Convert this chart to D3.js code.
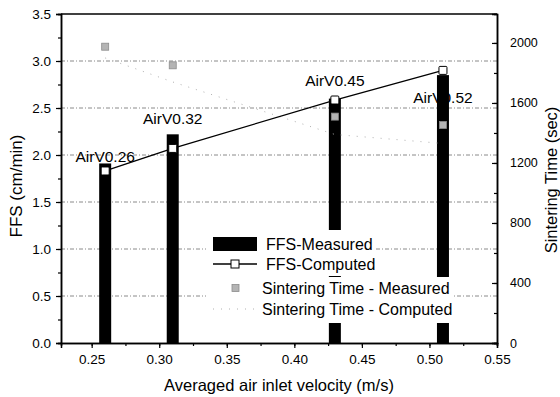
<!DOCTYPE html>
<html>
<head>
<meta charset="utf-8">
<script src="https://cdn.jsdelivr.net/npm/d3@7"></script>
<style>
  body { margin: 0; background: #fff; }
  svg { font-family: Arial, "Liberation Sans", sans-serif; }
</style>
</head>
<body>
<div id="chart"></div>
<script>
// Data
const velocity        = [0.26, 0.31, 0.43, 0.51];
const ffsMeasured     = [1.91, 2.22, 2.60, 2.85];
const ffsComputed     = [1.83, 2.07, 2.585, 2.90];
const sinterMeasured  = [1975, 1851, 1509, 1453];
const sinterComputed  = [1900, 1740, 1390, 1330];
const caseLabels      = ["AirV0.26", "AirV0.32", "AirV0.45", "AirV0.52"];
const labelAnchor     = [1.925, 2.33, 2.73, 2.55];   // FFS units, baseline of each label
const xTicks          = [0.25, 0.30, 0.35, 0.40, 0.45, 0.50, 0.55];
const yTicks          = [0.0, 0.5, 1.0, 1.5, 2.0, 2.5, 3.0, 3.5];
const y2Ticks         = [0, 400, 800, 1200, 1600, 2000];
const legendNames     = ["FFS-Measured", "FFS-Computed", "Sintering Time - Measured", "Sintering Time - Computed"];

const config = {
  width  : 560,
  height : 397,
  left   : 61,
  right  : 497,
  top    : 14,
  bottom : 343
};

const svg = d3.select("#chart")
  .append("svg")
    .attr("width", config.width)
    .attr("height", config.height);

const x = d3.scaleLinear().domain([0.2273, 0.55]).range([config.left, config.right]);
const y = d3.scaleLinear().domain([0, 3.5]).range([config.bottom, config.top]);
const y2 = d3.scaleLinear().domain([0, 2193]).range([config.bottom, config.top]);

// grid lines
svg.append("g")
  .selectAll("line")
  .data(yTicks.filter(d => d > 0 && d < 3.5))
  .enter()
  .append("line")
    .attr("x1", config.left).attr("x2", config.right)
    .attr("y1", d => y(d)).attr("y2", d => y(d))
    .attr("stroke", "#8a8a8a")
    .attr("stroke-width", 1)
    .attr("stroke-dasharray", "4,2,1,2");

// case labels (drawn under the bars)
svg.append("g")
  .selectAll("text")
  .data(caseLabels)
  .enter()
  .append("text")
    .attr("x", (d, i) => x(velocity[i]))
    .attr("y", (d, i) => y(labelAnchor[i]))
    .attr("text-anchor", "middle")
    .style("font-size", "15.5px")
    .text(d => d);

// bars
const barW = 12;
svg.append("g")
  .selectAll("rect")
  .data(ffsMeasured)
  .enter()
  .append("rect")
    .attr("x", (d, i) => x(velocity[i]) - barW / 2)
    .attr("y", d => y(d))
    .attr("width", barW)
    .attr("height", d => y(0) - y(d))
    .attr("fill", "#000");

// sintering time computed (dotted faint line)
const lineS = d3.line()
  .x((d, i) => x(velocity[i]))
  .y(d => y2(d));
svg.append("path")
  .datum(sinterComputed)
  .attr("d", lineS)
  .attr("fill", "none")
  .attr("stroke", "#b0b0b0")
  .attr("stroke-width", 1)
  .attr("stroke-dasharray", "1,7");

// FFS computed line
const lineF = d3.line()
  .x((d, i) => x(velocity[i]))
  .y(d => y(d));
svg.append("path")
  .datum(ffsComputed)
  .attr("d", lineF)
  .attr("fill", "none")
  .attr("stroke", "#000")
  .attr("stroke-width", 1.3);

svg.append("g")
  .selectAll("rect")
  .data(ffsComputed)
  .enter()
  .append("rect")
    .attr("x", (d, i) => x(velocity[i]) - 4)
    .attr("y", d => y(d) - 4)
    .attr("width", 8).attr("height", 8)
    .attr("rx", 1)
    .attr("fill", "#fff")
    .attr("stroke", "#000")
    .attr("stroke-width", 1);

// sintering time measured markers
svg.append("g")
  .selectAll("rect")
  .data(sinterMeasured)
  .enter()
  .append("rect")
    .attr("x", (d, i) => x(velocity[i]) - 3.5)
    .attr("y", d => y2(d) - 3.5)
    .attr("width", 7).attr("height", 7)
    .attr("fill", "#b4b4b4")
    .attr("stroke", "#8c8c8c")
    .attr("stroke-width", 0.8);

// legend
const legendX = 213;
const legendRows = [244, 264, 288, 309];
const legend = svg.append("g");
const items = legend.selectAll("g")
  .data(legendNames)
  .enter()
  .append("g")
    .attr("transform", (d, i) => "translate(" + legendX + "," + legendRows[i] + ")");

const bg = items.append("rect").attr("fill", "#fff");
items.append("text")
  .attr("x", (d, i) => i < 2 ? 53 : 49)
  .attr("y", 6)
  .style("font-size", "16px")
  .text(d => d);
bg.each(function(d, i) {
  const t = d3.select(this.parentNode).select("text").node().getBBox();
  d3.select(this)
    .attr("x", -7)
    .attr("y", i === 0 ? -14 : -11)
    .attr("width", t.x + t.width + 10)
    .attr("height", i === 0 ? 25 : (i === 3 ? 25 : 23));
});

items.filter((d, i) => i === 0).append("rect")
  .attr("x", 0).attr("y", -7).attr("width", 44).attr("height", 14).attr("fill", "#000");
const comp = items.filter((d, i) => i === 1);
comp.append("line").attr("x1", 0).attr("x2", 44).attr("y1", 0).attr("y2", 0)
  .attr("stroke", "#000").attr("stroke-width", 1.3);
comp.append("rect").attr("x", 18).attr("y", -4).attr("width", 8).attr("height", 8)
  .attr("fill", "#fff").attr("stroke", "#000");
items.filter((d, i) => i === 2).append("rect")
  .attr("x", 19).attr("y", -3.5).attr("width", 7).attr("height", 7)
  .attr("fill", "#b4b4b4").attr("stroke", "#8c8c8c").attr("stroke-width", 0.8);
items.filter((d, i) => i === 3).append("line").attr("x1", 0).attr("x2", 44).attr("y1", 0).attr("y2", 0)
  .attr("stroke", "#b0b0b0").attr("stroke-dasharray", "1,7");

// axes
const fmt1 = d3.format(".1f");
const fmt2 = d3.format(".2f");

svg.append("g")
  .attr("class", "ax")
  .attr("transform", "translate(0," + config.bottom + ")")
  .call(d3.axisBottom(x).tickValues(d3.range(0.25, 0.551, 0.025)).tickSize(3).tickFormat(""));
svg.append("g")
  .attr("class", "ax big")
  .attr("transform", "translate(0," + config.bottom + ")")
  .call(d3.axisBottom(x).tickValues(xTicks).tickSize(5).tickPadding(6).tickFormat(fmt2));

svg.append("g")
  .attr("class", "ax")
  .attr("transform", "translate(" + config.left + ",0)")
  .call(d3.axisLeft(y).tickValues(d3.range(0, 3.51, 0.25)).tickSize(3).tickFormat(""));
svg.append("g")
  .attr("class", "ax big")
  .attr("transform", "translate(" + config.left + ",0)")
  .call(d3.axisLeft(y).tickValues(yTicks).tickSize(5).tickPadding(5).tickFormat(fmt1));

svg.append("g")
  .attr("class", "ax")
  .attr("transform", "translate(" + config.right + ",0)")
  .call(d3.axisRight(y2).tickValues(d3.range(0, 2193, 200)).tickSize(-3).tickFormat(""));
svg.append("g")
  .attr("class", "ax right")
  .attr("transform", "translate(" + config.right + ",0)")
  .call(d3.axisRight(y2).tickValues(y2Ticks).tickSize(-5).tickPadding(13).tickFormat(d3.format("d")));

svg.selectAll(".domain").attr("stroke", "#000").attr("stroke-width", 1.5);
svg.selectAll(".tick line").attr("stroke", "#000").attr("stroke-width", 1.2);
svg.selectAll(".tick text").style("font-family", "Arial, 'Liberation Sans', sans-serif").attr("fill", "#000");
svg.selectAll(".big .tick text").style("font-size", "13.5px");
svg.selectAll(".right .tick text").style("font-size", "12.5px");

// top border
svg.append("line")
  .attr("x1", config.left).attr("x2", config.right)
  .attr("y1", config.top).attr("y2", config.top)
  .attr("stroke", "#000").attr("stroke-width", 1.5);

// axis titles
svg.append("text")
  .attr("x", 279)
  .attr("y", 391)
  .attr("text-anchor", "middle")
  .style("font-size", "16.5px")
  .text("Averaged air inlet velocity (m/s)");

svg.append("text")
  .attr("transform", "translate(22,186) rotate(-90)")
  .attr("text-anchor", "middle")
  .style("font-size", "17px")
  .text("FFS (cm/min)");

svg.append("text")
  .attr("transform", "translate(557,180) rotate(-90)")
  .attr("text-anchor", "middle")
  .style("font-size", "16.5px")
  .text("Sintering Time (sec)");
</script>
</body>
</html>
